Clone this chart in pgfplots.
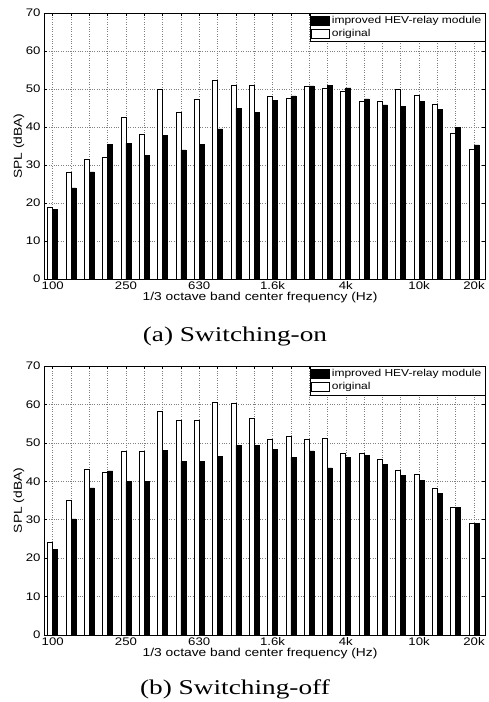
\documentclass[border=0pt]{standalone}
\usepackage{fontspec}
\setmainfont{Liberation Sans}[FakeStretch=1.2]
\newfontfamily\capfont{Liberation Serif}[FakeStretch=1.3]
\usepackage{pgfplots}
\usepackage{pgfplotstable}
\pgfplotsset{compat=1.18}

% columns: band index, original (white), improved (black)
\pgfplotstableread{
x orig impr
1  19.0 18.4
2  28.2 24.0
3  31.4 28.2
4  32.1 35.4
5  42.6 35.7
6  38.0 32.5
7  50.0 37.8
8  43.9 34.0
9  47.4 35.4
10 52.2 39.5
11 51.0 44.9
12 51.1 43.9
13 48.1 46.9
14 47.5 48.2
15 50.6 50.8
16 50.2 50.9
17 49.3 50.3
18 46.8 47.4
19 46.7 45.8
20 49.8 45.4
21 48.3 46.8
22 45.9 44.7
23 38.4 39.8
24 34.1 35.3
}\switchon

\pgfplotstableread{
x orig impr
1  24.2 22.3
2  35.1 30.2
3  43.1 38.3
4  42.3 42.7
5  47.7 39.9
6  47.7 39.9
7  58.3 48.0
8  56.0 45.2
9  55.9 45.2
10 60.6 46.5
11 60.3 49.3
12 56.3 49.3
13 51.0 48.3
14 51.7 46.3
15 51.0 47.9
16 51.3 43.5
17 47.4 46.3
18 47.3 46.8
19 45.8 44.3
20 42.9 41.5
21 41.9 40.3
22 38.3 36.9
23 33.2 33.2
24 29.0 29.0
}\switchoff

\pgfplotsset{
  spl/.style={
    ybar, bar width=5pt, ybar=0pt,
    scale only axis, width=441pt,
    xmin=0.525, xmax=24.6, ymin=0, ymax=70,
    xtick={1,...,24},
    xticklabels={100,,,,250,,,,630,,,,1.6k,,,,4k,,,,10k,,,20k},
    ytick={0,10,...,70},
    /pgf/number format/assume math mode=true,
    grid=major,
    major grid style={dotted, black!50, line width=0.5pt},
    tick align=inside, major tick length=3pt,
    tick style={black, line width=0.5pt},
    axis line style={black, line width=0.6pt},
    tick label style={font=\fontsize{11}{13}\selectfont},
    label style={font=\fontsize{11.5}{13}\selectfont},
    xlabel={1/3 octave band center frequency (Hz)},
    ylabel={SPL (dBA)},
    xlabel style={at={(axis description cs:0.49,0)}, anchor=center, yshift=-19pt},
    ylabel style={at={(axis description cs:-0.057,0.5)}, anchor=center},
    xticklabel style={yshift=1pt},
    legend style={at={(rel axis cs:1,1)}, anchor=north east, draw=black,
      fill=white, font=\fontsize{10}{11.5}\selectfont, inner sep=1.5pt,
      row sep=0pt, cells={anchor=west}},
    legend image code/.code={\draw[#1] (0pt,-4.5pt) rectangle (18pt,4.5pt);},
    reverse legend,
  },
  origbar/.style={fill=white, draw=black, line width=0.6pt},
  imprbar/.style={fill=black, draw=black, line width=0.6pt},
}

\begin{document}
\begin{tikzpicture}
\begin{axis}[spl, height=266pt, at={(0pt,0pt)}, anchor=south west]
\addplot[origbar] table[x=x, y=orig] {\switchon};
\addplot[imprbar] table[x=x, y=impr] {\switchon};
\legend{original, improved HEV-relay module}
\end{axis}
\node[font=\capfont\fontsize{21}{24}\selectfont] at (191pt,-57pt) {(a) Switching-on};

\begin{axis}[spl, height=269pt, at={(0pt,-356pt)}, anchor=south west]
\addplot[origbar] table[x=x, y=orig] {\switchoff};
\addplot[imprbar] table[x=x, y=impr] {\switchoff};
\legend{original, improved HEV-relay module}
\end{axis}
\node[font=\capfont\fontsize{21}{24}\selectfont] at (191pt,-410pt) {(b) Switching-off};

\pgfresetboundingbox
\path (-44pt,-423pt) rectangle (445pt,279pt);
\end{tikzpicture}
\end{document}
